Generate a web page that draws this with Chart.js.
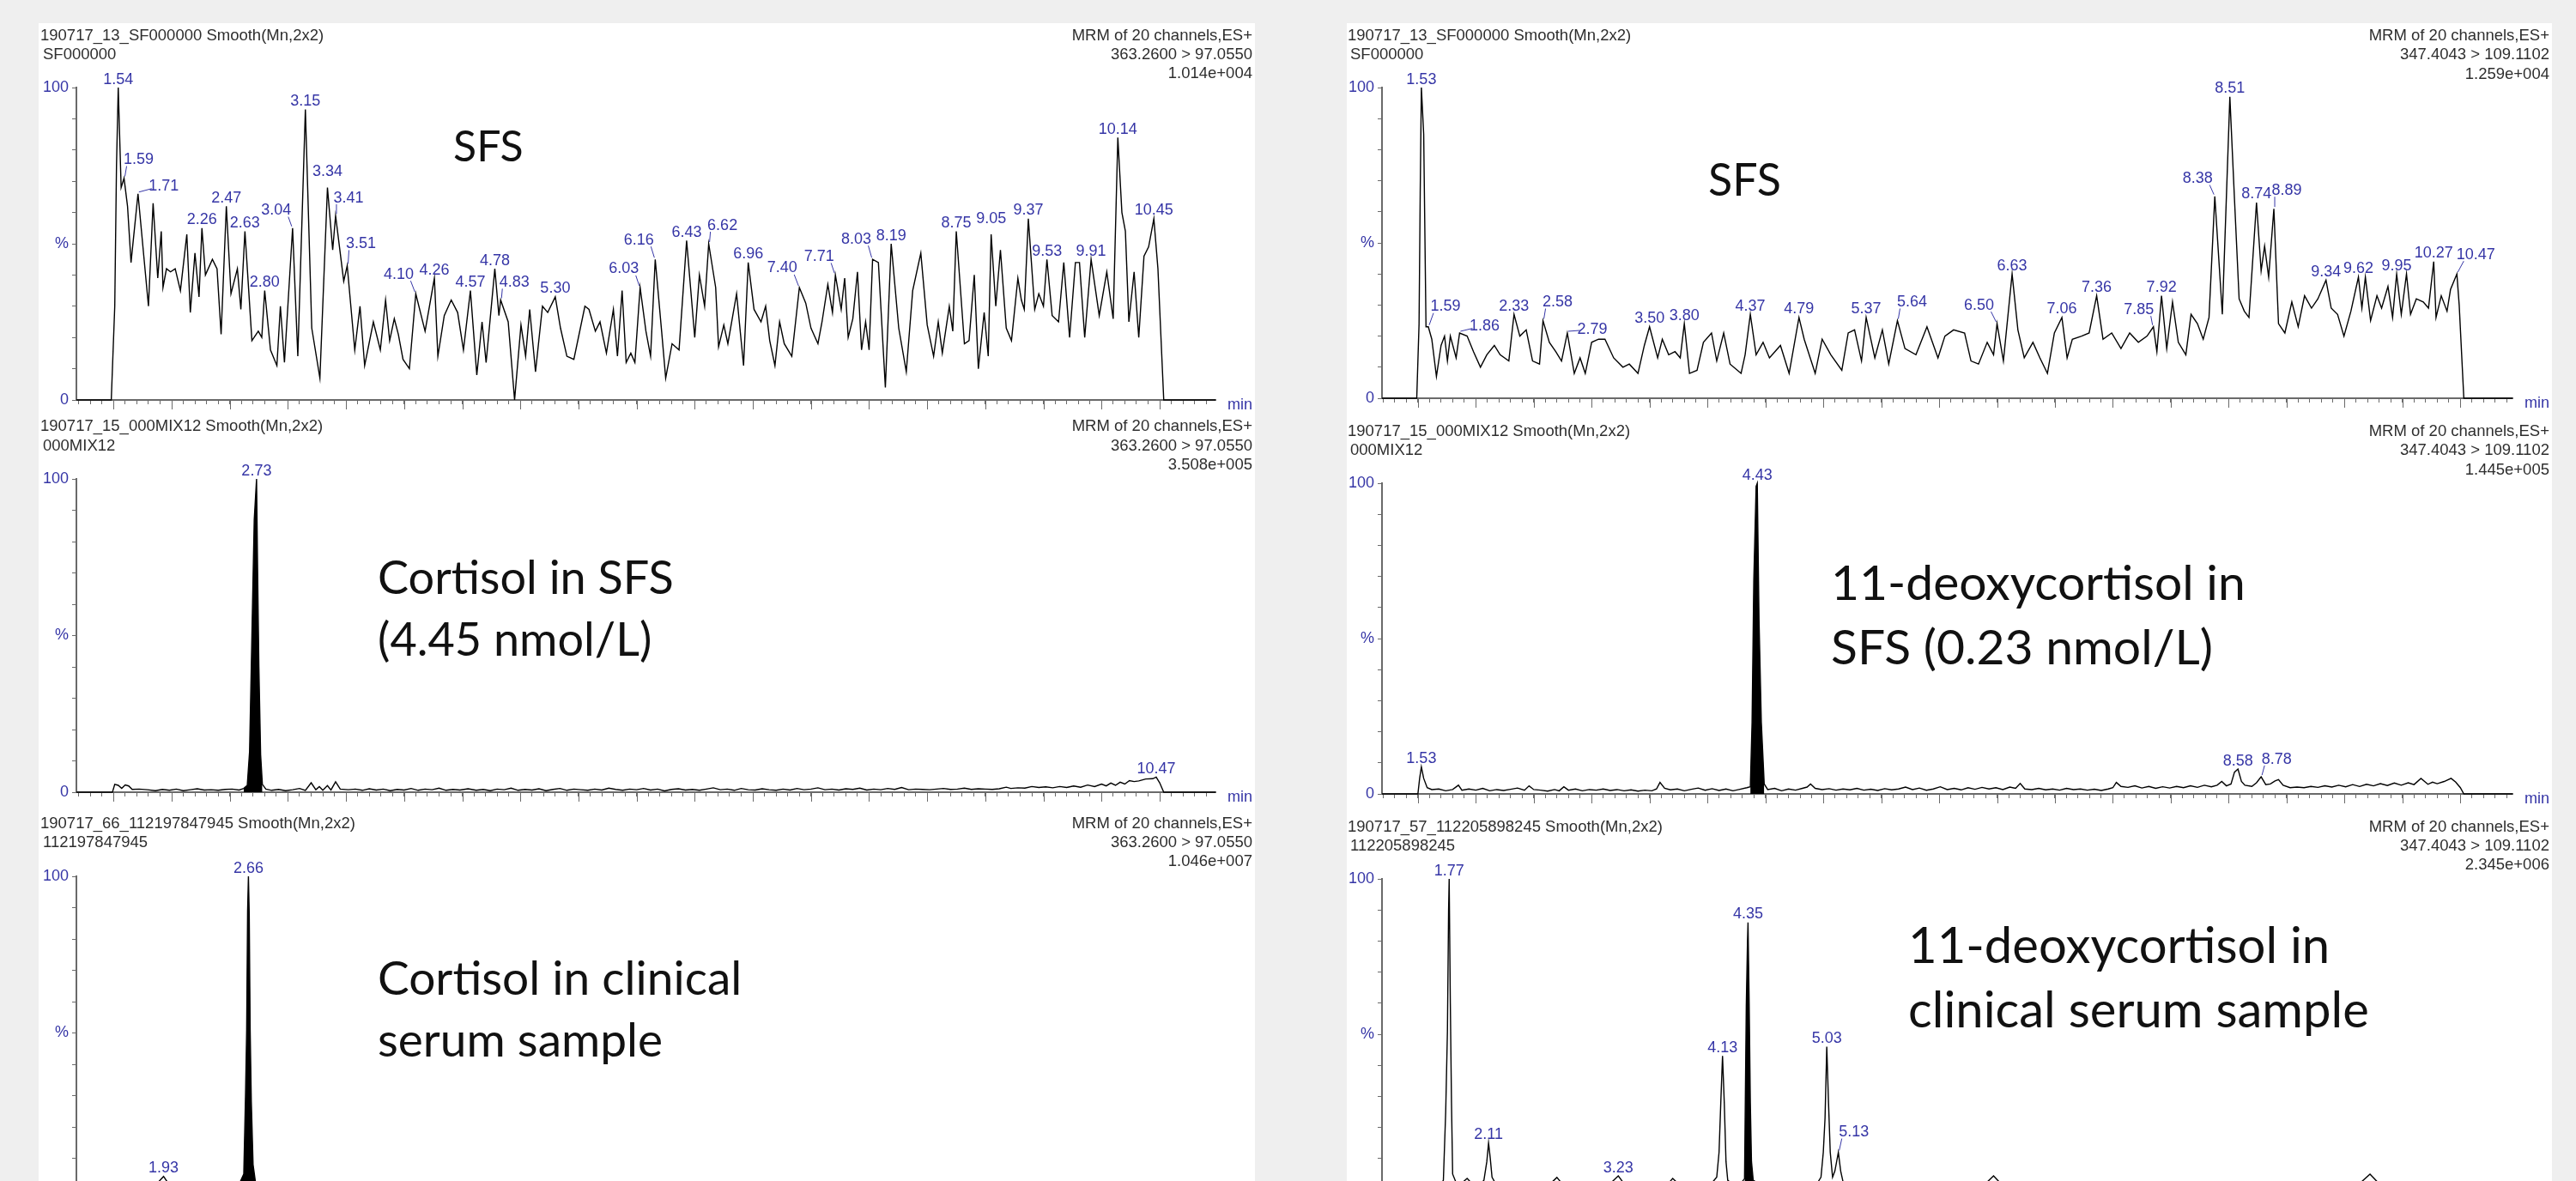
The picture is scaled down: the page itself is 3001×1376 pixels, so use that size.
<!DOCTYPE html>
<html>
<head>
<meta charset="utf-8">
<title>Chromatograms</title>
<script src="https://cdn.jsdelivr.net/npm/chart.js@4.4.1/dist/chart.umd.min.js"></script>
<style>
  html, body { margin: 0; padding: 0; }
  body {
    width: 3001px; height: 1376px; overflow: hidden; position: relative;
    background: #efefef;
    font-family: "Liberation Sans", Arial, sans-serif;
  }
  .sheet { position: absolute; top: 27px; bottom: 0; background: #fff; }
  canvas { position: absolute; }
  .hdr { position: absolute; white-space: nowrap; line-height: 1; font-size: 18.5px; color: #2e2e2e; }
  .note { position: absolute; white-space: nowrap; line-height: 1; font-family: Lato, "Open Sans", sans-serif; color: #111; }
</style>
</head>
<body>
<div class="sheet" style="left:45px;width:1417px"></div>
<div class="sheet" style="left:1569px;width:1404px"></div>
<script>
"use strict";

// ---- traces, [retention time (min), intensity (%)] ----

const sfsCortisol = [
  [1.18,0],[1.48,0],[1.51,30],[1.525,75],[1.54,100],[1.565,68],[1.59,71],[1.62,62],[1.65,44],[1.71,66],
  [1.80,30],[1.84,63],[1.88,39],[1.91,54],[1.925,36],[1.955,42],[1.99,41],[2.03,42],[2.075,35],[2.13,53],
  [2.16,28],[2.20,47],[2.235,33],[2.26,55],[2.29,40],[2.35,45],[2.39,42],[2.425,21],[2.47,62],[2.51,34],
  [2.565,42],[2.595,29],[2.63,54],[2.69,19],[2.745,22],[2.775,20],[2.80,35],[2.85,16],[2.905,11],[2.935,30],
  [2.97,12],[3.04,55],[3.085,14],[3.15,93],[3.205,23],[3.275,7],[3.34,68],[3.385,48],[3.41,59],[3.48,38],
  [3.51,43],[3.575,16],[3.62,30],[3.66,11],[3.735,25],[3.795,16],[3.84,32],[3.875,19],[3.915,26],[3.95,21],
  [3.99,13],[4.045,10],[4.10,34],[4.18,22],[4.26,39],[4.29,14],[4.345,27],[4.405,32],[4.46,28],[4.51,16],
  [4.57,35],[4.625,8],[4.67,25],[4.705,12],[4.78,42],[4.815,27],[4.83,32],[4.895,25],[4.95,0],[5.005,24],
  [5.045,14],[5.08,29],[5.13,9],[5.19,30],[5.235,28],[5.30,33],[5.345,23],[5.40,14],[5.46,13],[5.555,30],
  [5.59,29],[5.645,22],[5.685,25],[5.74,15],[5.80,29],[5.835,14],[5.875,35],[5.91,12],[5.95,15],[5.985,12],
  [6.03,36],[6.08,22],[6.12,14],[6.16,45],[6.215,22],[6.25,7],[6.305,18],[6.365,16],[6.43,51],[6.50,20],
  [6.54,40],[6.585,30],[6.62,50],[6.68,36],[6.705,17],[6.75,24],[6.785,18],[6.86,34],[6.92,11],[6.96,44],
  [7.01,29],[7.07,25],[7.11,30],[7.145,19],[7.19,11],[7.23,25],[7.27,18],[7.335,14],[7.40,36],[7.455,31],
  [7.50,23],[7.56,18],[7.595,25],[7.645,37],[7.685,28],[7.71,40],[7.76,29],[7.79,39],[7.82,20],[7.86,26],
  [7.90,41],[7.935,16],[7.97,25],[8.0,16],[8.03,45],[8.08,44],[8.14,4],[8.19,50],[8.255,23],[8.32,9],
  [8.375,35],[8.445,47],[8.50,24],[8.555,14],[8.595,25],[8.63,15],[8.69,30],[8.72,22],[8.75,54],[8.82,18],
  [8.86,19],[8.905,40],[8.94,10],[8.99,28],[9.025,14],[9.05,53],[9.09,30],[9.13,48],[9.18,23],[9.225,19],
  [9.28,39],[9.31,32],[9.335,29],[9.37,58],[9.425,29],[9.46,34],[9.50,30],[9.53,45],[9.575,27],[9.63,25],
  [9.675,44],[9.725,20],[9.775,44],[9.81,44],[9.855,20],[9.91,45],[9.98,27],[10.045,41],[10.10,26],[10.14,84],
  [10.175,60],[10.205,54],[10.235,25],[10.28,41],[10.32,20],[10.365,46],[10.405,49],[10.45,58],[10.485,42],[10.535,0],
  [10.98,0]
];

const sfsDeoxy = [
  [1.19,0],[1.49,0],[1.51,24],[1.52,66],[1.53,100],[1.55,85],[1.57,23],[1.59,23],[1.62,19],[1.66,7],
  [1.70,17],[1.73,20],[1.755,12],[1.78,20],[1.83,13],[1.86,21],[1.925,20],[1.98,15],[2.04,10],[2.095,14],
  [2.16,17],[2.21,14],[2.285,12],[2.33,27],[2.38,20],[2.435,22],[2.49,12],[2.55,11],[2.58,25],[2.635,18],
  [2.69,15],[2.74,12],[2.79,21],[2.85,8],[2.90,13],[2.945,8],[3.0,18],[3.06,19],[3.115,19],[3.19,13],
  [3.27,10],[3.325,11],[3.40,8],[3.455,17],[3.50,23],[3.57,13],[3.61,19],[3.665,14],[3.72,15],[3.765,13],
  [3.80,24],[3.845,8],[3.91,9],[3.965,18],[4.035,21],[4.08,12],[4.14,21],[4.195,11],[4.29,8],[4.325,14],
  [4.37,27],[4.42,14],[4.48,18],[4.535,13],[4.63,17],[4.705,8],[4.79,26],[4.835,19],[4.93,8],[4.99,19],
  [5.065,14],[5.16,9],[5.215,21],[5.27,22],[5.33,12],[5.37,26],[5.445,13],[5.51,22],[5.565,11],[5.64,25],
  [5.705,16],[5.80,14],[5.895,23],[5.99,13],[6.05,20],[6.125,22],[6.22,21],[6.275,12],[6.34,11],[6.415,18],
  [6.47,14],[6.50,24],[6.555,12],[6.63,40],[6.68,22],[6.735,13],[6.81,18],[6.87,13],[6.935,8],[6.995,21],
  [7.06,26],[7.105,13],[7.15,19],[7.23,20],[7.295,21],[7.36,33],[7.415,19],[7.49,21],[7.57,16],[7.645,21],
  [7.72,18],[7.795,20],[7.85,23],[7.88,15],[7.92,33],[7.965,16],[8.015,31],[8.065,18],[8.13,14],[8.175,27],
  [8.23,24],[8.28,19],[8.33,26],[8.38,65],[8.445,27],[8.51,97],[8.55,64],[8.59,32],[8.635,28],[8.675,26],
  [8.74,63],[8.78,41],[8.81,49],[8.845,39],[8.89,61],[8.93,24],[8.985,21],[9.045,31],[9.10,23],[9.155,33],
  [9.215,29],[9.27,32],[9.34,38],[9.385,29],[9.44,27],[9.495,20],[9.555,28],[9.62,39],[9.65,29],[9.68,39],
  [9.725,25],[9.78,33],[9.82,29],[9.875,36],[9.915,26],[9.95,40],[9.99,27],[10.035,40],[10.07,27],[10.12,32],
  [10.18,31],[10.225,29],[10.27,44],[10.29,26],[10.335,33],[10.385,28],[10.415,35],[10.47,40],[10.49,30],[10.53,0],
  [10.95,0]
];

const mixCortisol = [
  [1.18,0],[1.49,0],[1.51,2.5],[1.54,2.2],[1.57,1.2],[1.60,2.3],[1.63,2.0],[1.66,0.9],[1.72,1.0],[1.79,0.8],
  [1.86,0.5],[1.92,0.9],[1.98,0.6],[2.04,1.0],[2.10,0.5],[2.16,0.8],[2.22,1.1],[2.28,0.7],[2.34,0.8],[2.40,0.6],
  [2.46,0.9],[2.52,1.0],[2.58,0.7],[2.62,1.2],[2.65,2.2],[2.67,13],[2.69,50],[2.71,87],[2.73,100],[2.74,68],
  [2.75,40],[2.765,12],[2.78,2.5],[2.81,1.0],[2.86,0.6],[2.92,0.9],[2.98,0.5],[3.04,0.8],[3.10,1.2],[3.15,0.6],
  [3.20,3.0],[3.24,0.8],[3.27,1.8],[3.30,0.6],[3.34,2.1],[3.37,0.7],[3.41,3.3],[3.45,1.0],[3.52,0.8],[3.58,1.0],
  [3.64,0.6],[3.70,1.1],[3.76,0.7],[3.82,1.0],[3.88,0.5],[3.94,0.9],[4.0,0.7],[4.06,1.2],[4.12,0.6],[4.18,1.0],
  [4.24,0.8],[4.30,1.3],[4.36,0.6],[4.42,0.9],[4.48,0.7],[4.55,1.1],[4.62,0.6],[4.68,0.9],[4.74,0.5],[4.80,1.0],
  [4.86,0.8],[4.92,1.3],[4.98,0.6],[5.04,0.9],[5.10,0.7],[5.16,1.1],[5.22,0.5],[5.28,0.9],[5.34,1.2],[5.40,0.6],
  [5.46,1.0],[5.52,0.8],[5.58,0.6],[5.64,1.0],[5.70,0.7],[5.76,1.3],[5.82,0.9],[5.88,0.6],[5.94,1.0],[6.0,0.8],
  [6.06,1.2],[6.12,0.7],[6.18,1.0],[6.24,0.4],[6.30,0.9],[6.36,1.1],[6.42,0.7],[6.48,0.9],[6.54,0.6],[6.60,1.0],
  [6.66,1.4],[6.72,0.8],[6.78,1.0],[6.84,0.6],[6.90,1.2],[6.96,0.8],[7.02,0.7],[7.08,1.1],[7.14,0.8],[7.20,0.6],
  [7.26,1.0],[7.32,0.7],[7.38,1.2],[7.44,0.8],[7.50,1.0],[7.56,1.4],[7.62,0.8],[7.68,1.0],[7.74,0.7],[7.80,1.1],
  [7.86,0.9],[7.92,1.3],[7.98,0.7],[8.04,1.0],[8.10,0.8],[8.16,1.2],[8.22,0.9],[8.28,1.5],[8.34,0.8],[8.40,1.0],
  [8.46,0.9],[8.52,0.8],[8.58,1.0],[8.64,1.2],[8.70,0.9],[8.76,1.0],[8.82,1.3],[8.88,0.9],[8.94,1.1],[9.0,1.0],
  [9.06,0.9],[9.12,1.1],[9.18,1.6],[9.22,1.2],[9.28,1.4],[9.34,1.3],[9.40,1.8],[9.46,1.5],[9.52,1.7],[9.58,1.4],
  [9.64,1.8],[9.70,1.5],[9.76,2.0],[9.82,1.6],[9.88,2.3],[9.94,1.8],[10.0,2.6],[10.04,2.0],[10.08,2.9],[10.12,2.2],
  [10.16,3.2],[10.20,2.6],[10.24,3.7],[10.28,3.4],[10.32,3.6],[10.38,4.2],[10.44,4.3],[10.47,4.8],[10.50,3.0],[10.535,0],
  [10.98,0]
];

const mixDeoxy = [
  [1.19,0],[1.50,0],[1.515,5],[1.53,8.7],[1.55,5],[1.58,2],[1.62,1.4],[1.68,1.6],[1.74,1.0],[1.80,1.4],
  [1.85,2.8],[1.88,1.2],[1.94,1.6],[2.0,1.2],[2.06,1.8],[2.12,1.0],[2.18,1.4],[2.24,1.1],[2.30,1.5],[2.36,1.9],
  [2.42,1.2],[2.46,2.6],[2.50,1.4],[2.56,1.2],[2.62,0.9],[2.68,1.4],[2.72,1.0],[2.76,2.3],[2.80,1.2],[2.86,1.6],
  [2.92,1.0],[2.98,1.4],[3.04,1.2],[3.10,1.6],[3.16,1.1],[3.22,1.4],[3.28,1.0],[3.34,1.3],[3.40,0.9],[3.46,1.2],
  [3.52,1.0],[3.56,1.6],[3.59,3.7],[3.63,1.8],[3.68,1.3],[3.74,1.6],[3.80,1.0],[3.86,1.5],[3.92,1.9],[3.98,1.2],
  [4.04,1.7],[4.10,1.1],[4.16,1.6],[4.22,1.0],[4.28,1.5],[4.34,2.0],[4.37,2.3],[4.385,23],[4.40,69],[4.42,99],
  [4.43,100],[4.445,56],[4.465,23],[4.49,3.2],[4.52,1.4],[4.58,1.8],[4.64,1.0],[4.70,1.6],[4.76,1.2],[4.82,1.8],
  [4.86,2.2],[4.89,3.2],[4.93,1.8],[4.99,1.4],[5.05,1.7],[5.11,1.2],[5.17,1.6],[5.23,1.3],[5.29,1.8],[5.35,1.2],
  [5.41,1.5],[5.47,1.1],[5.53,1.7],[5.59,1.3],[5.65,1.6],[5.71,2.2],[5.77,1.4],[5.83,1.9],[5.89,1.2],[5.95,1.6],
  [6.01,2.3],[6.07,1.4],[6.13,1.8],[6.19,1.3],[6.25,2.0],[6.31,1.5],[6.37,2.1],[6.43,1.6],[6.49,2.0],[6.55,1.4],
  [6.61,2.2],[6.66,1.8],[6.70,3.4],[6.74,1.6],[6.80,1.4],[6.86,1.8],[6.92,1.3],[6.98,1.6],[7.04,1.2],[7.10,1.8],
  [7.16,1.4],[7.22,1.6],[7.28,1.2],[7.34,1.5],[7.40,1.1],[7.46,1.6],[7.50,2.0],[7.53,3.7],[7.57,2.4],[7.63,2.1],
  [7.69,2.6],[7.75,1.9],[7.81,2.4],[7.87,1.8],[7.93,2.3],[7.99,1.9],[8.05,2.4],[8.11,2.0],[8.17,2.6],[8.23,2.1],
  [8.29,2.8],[8.35,2.3],[8.40,2.8],[8.44,4.0],[8.48,2.6],[8.52,3.2],[8.55,7.0],[8.58,8.0],[8.61,4.0],[8.64,2.8],
  [8.70,2.4],[8.74,3.6],[8.78,5.5],[8.82,3.0],[8.86,3.2],[8.90,4.2],[8.93,4.6],[8.97,2.8],[9.03,2.0],[9.09,2.2],
  [9.15,2.0],[9.21,2.4],[9.27,2.1],[9.33,2.6],[9.39,2.2],[9.45,2.8],[9.51,2.3],[9.57,3.0],[9.63,2.4],[9.69,3.1],
  [9.75,2.6],[9.81,3.3],[9.87,2.7],[9.93,3.5],[9.99,2.8],[10.05,3.6],[10.10,3.0],[10.16,5.0],[10.22,3.1],[10.26,3.8],
  [10.30,3.3],[10.36,4.0],[10.42,5.0],[10.46,3.8],[10.50,2.0],[10.53,0],[10.95,0]
];

const serumCortisol = [
  [1.18,0],[1.49,0],[1.51,2.0],[1.55,1.6],[1.60,2.4],[1.66,1.5],[1.72,1.8],[1.78,1.4],[1.84,1.9],[1.88,2.2],
  [1.93,4.2],[1.97,2.0],[2.02,1.6],[2.08,1.9],[2.14,1.5],[2.20,1.8],[2.26,1.4],[2.32,1.7],[2.38,1.5],[2.44,1.9],
  [2.50,1.6],[2.55,2.0],[2.59,2.5],[2.62,5],[2.635,30],[2.645,51],[2.653,89],[2.66,100],[2.667,88],[2.675,51],
  [2.685,28],[2.70,8],[2.72,2.6],[2.76,1.8],[2.90,1.9],[3.0,1.5],[3.2,1.8],[3.4,1.6],[3.6,1.9],[3.8,1.5],
  [4.0,1.7],[4.3,1.5],[4.6,1.8],[4.9,1.6],[5.2,1.9],[5.5,1.5],[5.8,1.7],[6.1,1.6],[6.4,1.8],[6.7,1.5],
  [7.0,1.7],[7.3,1.6],[7.6,1.9],[7.9,1.5],[8.2,1.7],[8.5,1.6],[8.8,1.8],[9.1,1.5],[9.4,1.7],[9.7,1.9],
  [10.0,1.6],[10.3,1.8],[10.5,1.7],[10.535,0],[10.98,0]
];

const serumDeoxy = [
  [1.19,0],[1.50,0],[1.52,2.0],[1.58,1.6],[1.64,2.0],[1.70,1.8],[1.72,3],[1.74,25],[1.755,51],[1.765,90],
  [1.77,100],[1.78,60],[1.79,28],[1.80,5],[1.83,2.2],[1.87,1.8],[1.925,3.6],[1.97,1.8],[2.03,1.6],[2.07,3],
  [2.095,9],[2.11,15],[2.125,10],[2.14,4],[2.17,2.0],[2.24,1.6],[2.32,1.8],[2.40,1.5],[2.48,1.8],[2.56,1.6],
  [2.64,1.8],[2.70,3.9],[2.75,1.7],[2.84,1.5],[2.92,1.8],[3.0,1.6],[3.08,1.7],[3.16,1.9],[3.23,4.4],[3.28,1.9],
  [3.36,1.6],[3.44,1.8],[3.52,1.6],[3.60,1.8],[3.66,1.9],[3.70,3.6],[3.75,1.8],[3.82,1.7],[3.90,1.8],[3.98,2.0],
  [4.04,2.2],[4.08,4],[4.10,12],[4.115,28],[4.13,43],[4.145,28],[4.16,9],[4.175,3],[4.20,2.2],[4.26,2.4],
  [4.30,2.6],[4.32,3.5],[4.335,59],[4.345,79],[4.35,86],[4.36,60],[4.37,28],[4.38,9],[4.395,3],[4.43,2.2],
  [4.55,2.0],[4.70,2.2],[4.85,2.0],[4.95,2.2],[4.98,4],[5.0,12],[5.015,23],[5.03,46],[5.045,28],[5.06,12],
  [5.08,4],[5.10,6],[5.13,12],[5.15,6],[5.17,2.6],[5.25,2.2],[5.40,2.0],[5.55,2.4],[5.70,2.1],[5.85,2.3],
  [6.0,2.0],[6.15,2.4],[6.30,2.2],[6.42,2.6],[6.47,4.4],[6.52,2.4],[6.65,2.2],[6.80,2.5],[6.95,2.1],[7.10,2.4],
  [7.25,2.2],[7.40,2.5],[7.55,2.1],[7.70,2.4],[7.85,2.2],[8.0,2.5],[8.15,2.2],[8.30,2.4],[8.45,2.1],[8.60,2.5],
  [8.75,2.2],[8.90,2.4],[9.05,2.1],[9.20,2.5],[9.35,2.2],[9.50,2.4],[9.65,2.6],[9.72,5.0],[9.78,2.6],[9.90,2.3],
  [10.05,2.5],[10.20,2.2],[10.35,2.4],[10.48,2.1],[10.52,0],[10.95,0]
];

// ---- labelled peaks (retention times) ----
const sfsCortisolPeaks = [1.54,1.59,1.71,2.26,2.47,2.63,2.80,3.04,3.15,3.34,3.41,3.51,4.10,4.26,4.57,4.78,4.83,5.30,
  6.03,6.16,6.43,6.62,6.96,7.40,7.71,8.03,8.19,8.75,9.05,9.37,9.53,9.91,10.14,10.45];
const sfsDeoxyPeaks = [1.53,1.59,1.86,2.33,2.58,2.79,3.50,3.80,4.37,4.79,5.37,5.64,6.50,6.63,7.06,7.36,7.85,7.92,
  8.38,8.51,8.74,8.89,9.34,9.62,9.95,10.27,10.47];
const mixCortisolPeaks = [2.73, 10.47];
const mixDeoxyPeaks = [1.53, 4.43, 8.58, 8.78];
const serumCortisolPeaks = [1.93, 2.66];
const serumDeoxyPeaks = [1.77, 2.11, 3.23, 4.13, 4.35, 5.03, 5.13];

// integrated (black) peak windows
const mixCortisolFill = [2.62, 2.79];
const mixDeoxyFill = [4.37, 4.50];
const serumCortisolFill = [2.59, 2.73];
const serumDeoxyFill = [4.31, 4.40];

// header texts
const sfsHead = ["190717_13_SF000000 Smooth(Mn,2x2)", "SF000000"];
const mixHead = ["190717_15_000MIX12 Smooth(Mn,2x2)", "000MIX12"];
const serumCortisolHead = ["190717_66_112197847945 Smooth(Mn,2x2)", "112197847945"];
const serumDeoxyHead = ["190717_57_112205898245 Smooth(Mn,2x2)", "112205898245"];
const cortisolChannel = ["MRM of 20 channels,ES+", "363.2600 > 97.0550"];
const deoxyChannel = ["MRM of 20 channels,ES+", "347.4043 > 109.1102"];
const maxCounts = ["1.014e+004", "1.259e+004", "3.508e+005", "1.445e+005", "1.046e+007", "2.345e+006"];

// ---- layout / style ----
const BLUE = "#3535a6";
const AXIS = "#6a6a6a";
const FONT = '"Liberation Sans", Arial, sans-serif';

const COLS = [
  { left: 45, width: 1417, axisX: 89, axisEnd: 1416, xMin: 1.18, xMax: 10.98, textLeft: 47, textRight: 1459 },
  { left: 1569, width: 1404, axisX: 1610, axisEnd: 2927, xMin: 1.19, xMax: 10.95, textLeft: 1570, textRight: 2970 }
];

// label offsets (label centre relative to apex), a leader line is drawn when dx != 0
const sfsCortisolShift = {
  "1.59": [17, -23], "1.71": [30, -10], "3.04": [-19, -22], "3.34": [0, -20], "3.41": [15, -22],
  "3.51": [16, -27], "4.10": [-20, -24], "4.83": [16, -22], "6.03": [-19, -23], "6.16": [-19, -24],
  "6.62": [16, -23], "7.40": [-20, -24], "7.71": [-19, -23], "8.03": [-19, -25], "9.05": [0, -20]
};
const sfsDeoxyShift = {
  "1.59": [20, -25], "1.86": [29, -9], "2.58": [17, -23], "2.79": [29, -5], "5.64": [17, -23],
  "6.50": [-21, -23], "7.85": [-17, -21], "8.38": [-20, -22], "8.89": [15, -23], "10.47": [22, -24]
};

const panels = [
  { col: 0, y100: 102, y0: 466, trace: sfsCortisol, peaks: sfsCortisolPeaks, shift: sfsCortisolShift, fill: null,
    head: sfsHead, channel: cortisolChannel, counts: maxCounts[0], headBase: [47, 69, 91],
    note: ["SFS"], noteSize: 50, noteLeft: 528, noteBase: [188] },
  { col: 1, y100: 102, y0: 464, trace: sfsDeoxy, peaks: sfsDeoxyPeaks, shift: sfsDeoxyShift, fill: null,
    head: sfsHead, channel: deoxyChannel, counts: maxCounts[1], headBase: [47, 69, 92],
    note: ["SFS"], noteSize: 52, noteLeft: 1990, noteBase: [228] },
  { col: 0, y100: 558, y0: 923, trace: mixCortisol, peaks: mixCortisolPeaks, shift: {}, fill: mixCortisolFill,
    head: mixHead, channel: cortisolChannel, counts: maxCounts[2], headBase: [502, 525, 547],
    note: ["Cortisol in SFS", "(4.45 nmol/L)"], noteSize: 54, noteLeft: 440, noteBase: [693, 765] },
  { col: 1, y100: 563, y0: 925, trace: mixDeoxy, peaks: mixDeoxyPeaks, shift: { "8.78": [18, -22] }, fill: mixDeoxyFill,
    head: mixHead, channel: deoxyChannel, counts: maxCounts[3], headBase: [508, 530, 553],
    note: ["11-deoxycortisol in", "SFS (0.23 nmol/L)"], noteSize: 57, noteLeft: 2133, noteBase: [700, 775] },
  { col: 0, y100: 1021, y0: 1386, trace: serumCortisol, peaks: serumCortisolPeaks, shift: {}, fill: serumCortisolFill,
    head: serumCortisolHead, channel: cortisolChannel, counts: maxCounts[4], headBase: [965, 987, 1009],
    note: ["Cortisol in clinical", "serum sample"], noteSize: 55, noteLeft: 440, noteBase: [1160, 1232] },
  { col: 1, y100: 1024, y0: 1386, trace: serumDeoxy, peaks: serumDeoxyPeaks, shift: { "5.13": [18, -25] }, fill: serumDeoxyFill,
    head: serumDeoxyHead, channel: deoxyChannel, counts: maxCounts[5], headBase: [969, 991, 1013],
    note: ["11-deoxycortisol in", "clinical serum sample"], noteSize: 58, noteLeft: 2223, noteBase: [1122, 1197] }
];

const TOP_PAD = 60;
const X_AXIS_H = 30;

function addDiv(cls, text, css) {
  const d = document.createElement("div");
  d.className = cls;
  d.textContent = text;
  Object.assign(d.style, css);
  document.body.appendChild(d);
}

function nearest(trace, t) {
  let best = trace[0];
  trace.forEach((p) => {
    if (Math.abs(p[0] - t) < Math.abs(best[0] - t)) best = p;
  });
  return best;
}

function makePlugin(panel, col) {
  return {
    id: "chrom",
    afterDraw(chart) {
      const { ctx, chartArea } = chart;
      const x = chart.scales.x;
      const y = chart.scales.y;
      ctx.save();

      // longer tick every 0.5 min
      ctx.strokeStyle = AXIS;
      ctx.lineWidth = 1;
      for (let i = 3; i <= 21; i++) {
        const v = i * 0.5;
        if (v <= col.xMin || v >= col.xMax) continue;
        const px = Math.round(x.getPixelForValue(v)) + 0.5;
        ctx.beginPath();
        ctx.moveTo(px, chartArea.bottom + 1);
        ctx.lineTo(px, chartArea.bottom + 11);
        ctx.stroke();
      }

      ctx.fillStyle = BLUE;
      ctx.font = "18px " + FONT;
      ctx.textBaseline = "alphabetic";
      ctx.textAlign = "left";
      ctx.fillText("min", chartArea.right + 14, chartArea.bottom + 11);

      // peak retention time labels
      ctx.textAlign = "center";
      ctx.strokeStyle = BLUE;
      panel.peaks.forEach((rt) => {
        const key = rt.toFixed(2);
        const pt = nearest(panel.trace, rt);
        const px = x.getPixelForValue(pt[0]);
        const py = y.getPixelForValue(pt[1]);
        const sh = panel.shift[key];
        const dx = sh ? sh[0] : 0;
        const dy = sh ? sh[1] : -11;
        const cx = px + dx;
        const cy = py + dy;
        ctx.fillText(key, cx, cy + 6.5);
        if (dx !== 0) {
          const s = Math.sign(dx);
          ctx.beginPath();
          ctx.moveTo(px + s, py - 2);
          ctx.lineTo(cx - s * 14, cy + Math.min(9, -dy * 0.4));
          ctx.stroke();
        }
      });
      ctx.restore();
    }
  };
}

document.addEventListener("DOMContentLoaded", () => {
  const xTicks = [];
  for (let i = 12; i <= 109; i++) xTicks.push({ value: i / 10 });
  const yTicks = [];
  for (let i = 0; i <= 100; i += 10) yTicks.push({ value: i });

  panels.forEach((panel) => {
    const col = COLS[panel.col];
    const canvas = document.createElement("canvas");
    const h = TOP_PAD + (panel.y0 - panel.y100) + X_AXIS_H;
    canvas.width = col.width;
    canvas.height = h;
    canvas.style.left = col.left + "px";
    canvas.style.top = (panel.y100 - TOP_PAD) + "px";
    canvas.style.width = col.width + "px";
    canvas.style.height = h + "px";
    document.body.appendChild(canvas);

    const points = panel.trace.map(([t, v]) => ({ x: t, y: v }));
    const datasets = [{
      data: points,
      borderColor: "#000",
      borderWidth: 1.4,
      pointRadius: 0,
      tension: 0,
      fill: false,
      clip: false
    }];
    if (panel.fill) {
      datasets.push({
        data: points.filter((p) => p.x >= panel.fill[0] && p.x <= panel.fill[1]),
        borderWidth: 0,
        backgroundColor: "#000",
        pointRadius: 0,
        tension: 0,
        fill: "origin",
        clip: false
      });
    }

    new Chart(canvas, {
      type: "line",
      data: { datasets },
      options: {
        responsive: false,
        animation: false,
        events: [],
        layout: { padding: { top: TOP_PAD, right: col.left + col.width - col.axisEnd, left: 0, bottom: 0 } },
        plugins: { legend: { display: false }, tooltip: { enabled: false } },
        scales: {
          x: {
            type: "linear",
            min: col.xMin,
            max: col.xMax,
            afterBuildTicks: (s) => { s.ticks = xTicks.filter((t) => t.value > col.xMin && t.value < col.xMax); },
            afterFit: (s) => { s.height = X_AXIS_H; },
            ticks: { display: false, autoSkip: false },
            grid: { display: true, drawOnChartArea: false, drawTicks: true, tickLength: 5, color: AXIS, lineWidth: 1 },
            border: { display: true, color: AXIS, width: 2 }
          },
          y: {
            min: 0,
            max: 100,
            afterBuildTicks: (s) => { s.ticks = yTicks.map((t) => ({ value: t.value })); },
            afterFit: (s) => { s.width = col.axisX - col.left; },
            ticks: {
              autoSkip: false,
              padding: 4,
              color: BLUE,
              font: { family: FONT, size: 18 },
              callback: (v) => (v === 100 ? "100" : v === 50 ? "%" : v === 0 ? "0" : "")
            },
            grid: { display: true, drawOnChartArea: false, drawTicks: true, tickLength: 5, color: AXIS, lineWidth: 1 },
            border: { display: true, color: AXIS, width: 2 }
          }
        }
      },
      plugins: [makePlugin(panel, col)]
    });

    // header lines
    addDiv("hdr", panel.head[0], { left: col.textLeft + "px", top: (panel.headBase[0] - 15.5) + "px" });
    addDiv("hdr", panel.head[1], { left: (col.textLeft + 3) + "px", top: (panel.headBase[1] - 15.5) + "px" });
    const info = [panel.channel[0], panel.channel[1], panel.counts];
    info.forEach((line, i) => {
      addDiv("hdr", line, { right: (3001 - col.textRight) + "px", top: (panel.headBase[i] - 15.5) + "px", textAlign: "right" });
    });

    // slide annotation
    panel.note.forEach((line, i) => {
      addDiv("note", line, {
        left: panel.noteLeft + "px",
        fontSize: panel.noteSize + "px",
        top: (panel.noteBase[i] - 0.887 * panel.noteSize) + "px"
      });
    });
  });
});
</script>
</body>
</html>
